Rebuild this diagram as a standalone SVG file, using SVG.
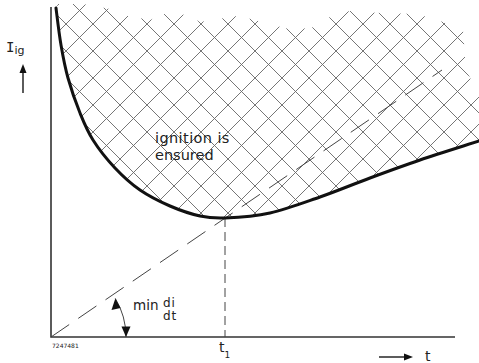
<svg xmlns="http://www.w3.org/2000/svg" width="479" height="363" viewBox="0 0 479 363">
<style>
.axis{stroke:#333;stroke-width:1.6;fill:none}
.curve{stroke:#111;stroke-width:3;fill:none;stroke-linecap:round}
.dash{stroke:#444;stroke-width:1;fill:none}
.txt{font-family:"DejaVu Sans","Liberation Sans",sans-serif;fill:#222}
.mono{font-family:"DejaVu Sans Mono","Liberation Mono",monospace}
.head{fill:#111}
</style>
<defs>
<pattern id="hatch" patternUnits="userSpaceOnUse" x="12" y="-3" width="27" height="27">
<path d="M-2,-2 L29,29 M-2,29 L29,-2" stroke="#666" stroke-width="0.9" fill="none"/>
</pattern>
</defs>
<rect width="479" height="363" fill="#fff"/>
<g id="hatched-region">
<path fill="url(#hatch)" stroke="none" d="M56,8 C56.8,14.2 59,33.3 61,45 C63,56.7 64.8,66.7 68,78 C71.2,89.3 75.8,102.7 80,113 C84.2,123.3 87.2,130.8 93,140 C98.8,149.2 107.2,159.7 115,168 C122.8,176.3 130.8,183.7 140,190 C149.2,196.3 160,201.7 170,206 C180,210.3 190.8,214 200,216 C209.2,218 213.3,218.5 225,218 C236.7,217.5 254.2,216.5 270,213 C285.8,209.5 303.3,202.8 320,197 C336.7,191.2 353.3,184.2 370,178 C386.7,171.8 401.8,166.2 420,160 C438.2,153.8 469.2,144.2 479,141 L479,95 L466,70 L463,30 L443,22 L417,14 L380,13 L350,11 L333,15 L315,27 L293,30 L277,26 L255,20 L237,16 L200,22 L187,15 L167,13 L150,20 L123,15 L110,9 L83,4 L58,4 Z"/>
</g>
<g id="axes">
<path class="axis" d="M51,7 L51,337 L455,337"/>
</g>
<g id="connectors">
<path class="dash" d="M51,337 L442,70" stroke-dasharray="22 11"/>
<path class="dash" d="M225,218 L225,337" stroke-dasharray="9 5"/>
<path class="dash" d="M126,337 A75,75 0 0 0 115.3,298.4" stroke="#111" stroke-width="1.2"/>
<path class="head" d="M115.3,298.4 L111.5,310 L120.5,308 Z"/>
<path class="head" d="M126,337 L121.5,326.5 L130.5,326.5 Z"/>
<path class="axis" d="M23,93 L23,72" stroke-width="1.2"/>
<path class="head" d="M23,64 L19.5,73 L26.5,73 Z"/>
<path class="axis" d="M379,357 L405,357" stroke-width="1.2"/>
<path class="head" d="M413,357 L404,353.5 L404,360.5 Z"/>
</g>
<g id="curve">
<path class="curve" d="M56,8 C56.8,14.2 59,33.3 61,45 C63,56.7 64.8,66.7 68,78 C71.2,89.3 75.8,102.7 80,113 C84.2,123.3 87.2,130.8 93,140 C98.8,149.2 107.2,159.7 115,168 C122.8,176.3 130.8,183.7 140,190 C149.2,196.3 160,201.7 170,206 C180,210.3 190.8,214 200,216 C209.2,218 213.3,218.5 225,218 C236.7,217.5 254.2,216.5 270,213 C285.8,209.5 303.3,202.8 320,197 C336.7,191.2 353.3,184.2 370,178 C386.7,171.8 401.8,166.2 420,160 C438.2,153.8 469.2,144.2 479,141"/>
</g>
<g id="labels">
<text class="txt" x="6" y="52" font-size="14"><tspan class="mono">I</tspan><tspan font-size="11" dy="2">ig</tspan></text>
<text class="txt" x="155" y="143" font-size="14.5" letter-spacing="0.4">ignition is</text>
<text class="txt" x="155" y="160" font-size="14.5">ensured</text>
<text class="txt" x="133" y="310" font-size="13.5">min</text>
<text class="txt" x="163" y="307" font-size="12" letter-spacing="1">di</text>
<text class="txt" x="163" y="320" font-size="12" letter-spacing="1">dt</text>
<text class="txt" x="219" y="352" font-size="14">t<tspan font-size="9" dy="6">1</tspan></text>
<text class="txt" x="425" y="361" font-size="14">t</text>
<text class="txt" x="52" y="348" font-size="6" fill="#555">7247481</text>
</g>
</svg>
